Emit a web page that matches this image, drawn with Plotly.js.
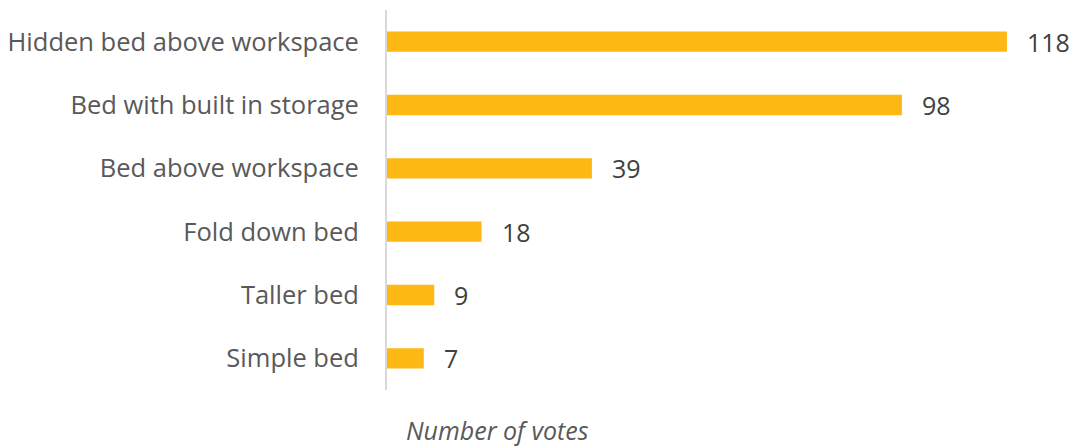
<!DOCTYPE html>
<html>
<head>
<meta charset="utf-8">
<script src="https://cdn.plot.ly/plotly-3.0.1.min.js"></script>
<style>html,body{margin:0;padding:0;background:#fff;}#chart{width:1073px;height:447px;}</style>
</head>
<body>
<div id="chart"></div>
<script>
const categories = ["Hidden bed above workspace", "Bed with built in storage", "Bed above workspace", "Fold down bed", "Taller bed", "Simple bed"];
const votes = [118, 98, 39, 18, 9, 7];
const axisTitle = "Number of votes";

const FONT = "Open Sans, Lato, sans-serif";
const GREY = "#595959";

const trace = {
  type: "bar",
  orientation: "h",
  y: categories,
  x: votes,
  width: 0.32,
  marker: {color: "#FDB813"},
  hoverinfo: "x+y"
};

const annotations = votes.map((v, i) => ({
  x: v, y: categories[i], xref: "x", yref: "y",
  text: String(v), showarrow: false, xanchor: "left", xshift: 18,
  font: {family: FONT, size: 25, color: "#404040"}
}));

const W = 1073, H = 447, L = 387, R = 3, T = 10, B = 57;
annotations.push({
  x: (497 - L) / (W - L - R), y: (H - B - 430) / (H - T - B),
  xref: "paper", yref: "paper", xanchor: "center", yanchor: "middle",
  text: "<i>" + axisTitle + "</i>", showarrow: false,
  font: {family: FONT, size: 25, color: GREY}
});

const layout = {
  width: W, height: H,
  margin: {l: L, r: R, t: T, b: B},
  paper_bgcolor: "#fff", plot_bgcolor: "#fff",
  showlegend: false,
  font: {family: FONT, color: GREY},
  xaxis: {range: [0, 130], showgrid: false, zeroline: false, showticklabels: false, showline: false, fixedrange: true},
  yaxis: {
    autorange: "reversed", showgrid: false, zeroline: false,
    showline: true, linecolor: "#D9D9D9", linewidth: 2,
    ticks: "", ticklabelstandoff: 21,
    tickfont: {family: FONT, size: 25.5, color: GREY}
  },
  annotations: annotations
};

Plotly.newPlot("chart", [trace], layout, {displayModeBar: false, staticPlot: true});
</script>
</body>
</html>
